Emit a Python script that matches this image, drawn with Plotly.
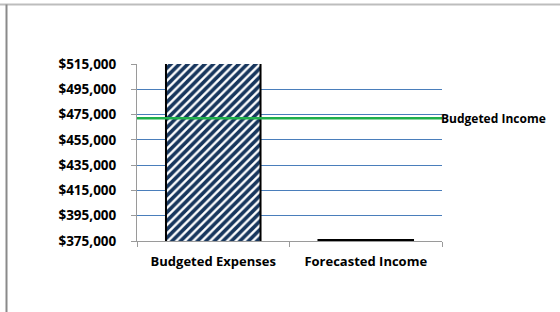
import plotly.graph_objects as go

categories = ["Budgeted Expenses", "Forecasted Income"]
values = [522000, 375700]
budgeted_income = 472000
income_label = "Budgeted Income"
y_ticks = [375000, 395000, 415000, 435000, 455000, 475000, 495000, 515000]
y_tick_labels = ["$375,000", "$395,000", "$415,000", "$435,000", "$455,000", "$475,000", "$495,000", "$515,000"]

W, H = 560, 312
L, R, T, B = 137, 118, 64, 71
pw, ph = W - L - R, H - T - B

fig = go.Figure()
fig.add_trace(go.Bar(
    x=categories, y=values, width=0.62,
    marker=dict(
        color="white",
        line=dict(color="black", width=2),
        pattern=dict(shape="/", fgcolor="#17365D", bgcolor="white", size=6, solidity=0.6, fillmode="replace"),
    ),
    showlegend=False, hoverinfo="skip",
))

fig.add_shape(type="line", xref="paper", yref="y", x0=0, x1=1,
              y0=budgeted_income, y1=budgeted_income,
              line=dict(color="#1FAF4B", width=2.5), layer="above")
fig.add_annotation(xref="paper", yref="y", x=1, y=budgeted_income, text=income_label,
                   showarrow=False, xanchor="left", yanchor="middle", xshift=-3,
                   font=dict(family="Open Sans, Liberation Sans, sans-serif", size=12, color="black", weight="bold"))

# chart border (top and left)
top_y = (H - B - 4.5) / ph
bot_y = (H - B - H) / ph
fig.add_shape(type="line", xref="paper", yref="paper",
              x0=(0 - L) / pw, x1=(W - L) / pw, y0=top_y, y1=top_y,
              line=dict(color="#BDBDBD", width=2))
fig.add_shape(type="line", xref="paper", yref="paper",
              x0=(6.5 - L) / pw, x1=(6.5 - L) / pw, y0=bot_y, y1=top_y,
              line=dict(color="#8A8A8A", width=2))

font = dict(family="Open Sans, Liberation Sans, sans-serif", size=13.5, color="black", weight="bold")
fig.update_layout(
    width=W, height=H,
    margin=dict(l=L, r=R, t=T, b=B),
    paper_bgcolor="white", plot_bgcolor="white",
    xaxis=dict(
        type="category", showgrid=False, showline=True, linecolor="#9A9A9A", linewidth=1,
        ticks="outside", tickson="boundaries", ticklen=5, tickcolor="#9A9A9A",
        tickfont=dict(font, size=13), ticklabelstandoff=8, fixedrange=True, automargin=False,
    ),
    yaxis=dict(
        range=[375000, 515000], tickvals=y_ticks, ticktext=y_tick_labels,
        showgrid=True, gridcolor="#4A7EBB", gridwidth=1,
        showline=True, linecolor="#9A9A9A", linewidth=1,
        ticks="outside", ticklen=5, tickcolor="#9A9A9A",
        tickfont=font, ticklabelstandoff=12, zeroline=False, fixedrange=True, automargin=False,
    ),
)
fig.write_html("out.html", config={"displayModeBar": False},
               post_script="document.body.style.margin='0';document.body.style.overflow='hidden';")
